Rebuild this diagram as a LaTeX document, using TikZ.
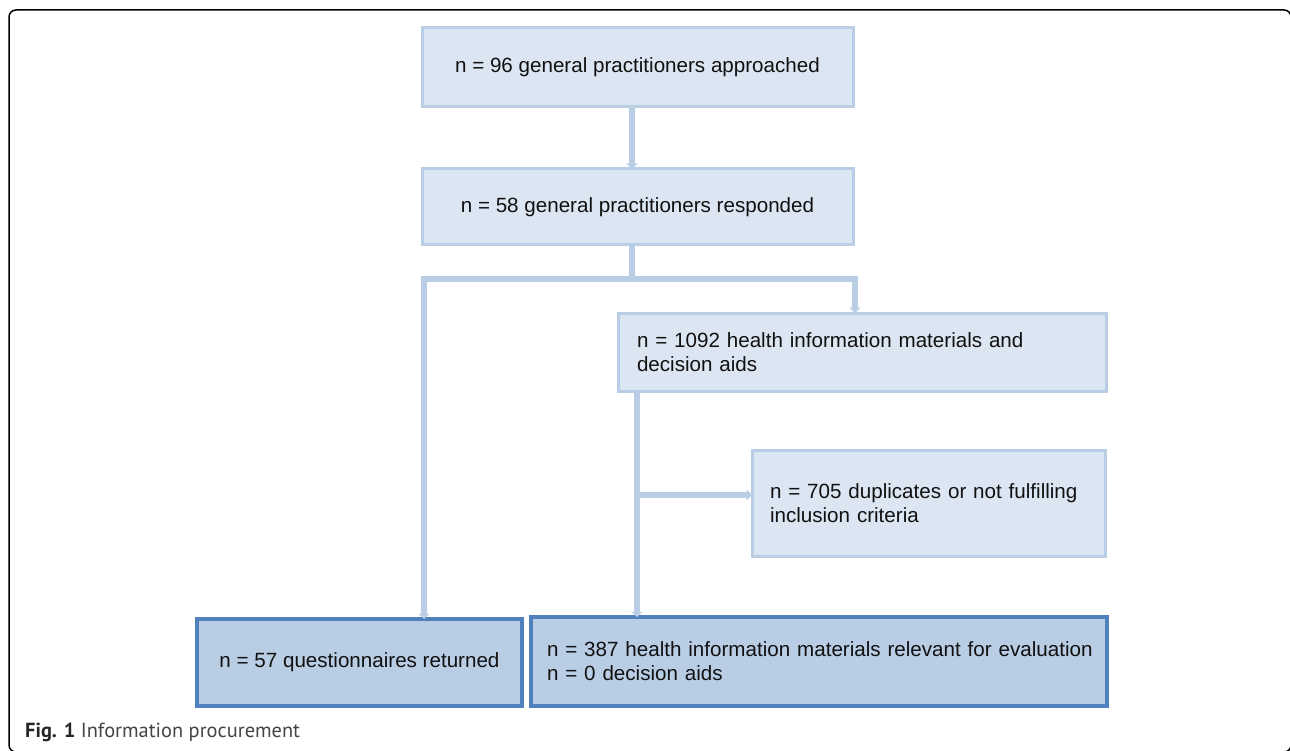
\documentclass[tikz,border=0pt]{standalone}
\usepackage{fontspec}
\setmainfont{Liberation Sans}
\newfontfamily\capfont{PT Sans}
\usetikzlibrary{arrows.meta}
\definecolor{lightfill}{HTML}{DCE6F2}
\definecolor{lightline}{HTML}{B9CDE5}
\definecolor{darkfill}{HTML}{B9CDE5}
\definecolor{darkline}{HTML}{4F81BD}
\definecolor{txt}{HTML}{111111}
\definecolor{capgray}{HTML}{444444}
\tikzset{
  box/.style={anchor=north west, outer sep=0pt, inner sep=0pt, text=txt,
    font=\fontsize{20.6}{24}\selectfont},
  lightbox/.style={box, draw=lightline, fill=lightfill, line width=3pt},
  darkbox/.style={box, draw=darkline, fill=darkfill, line width=3.5pt},
  conn/.style={draw=lightline, line width=5.5pt},
  arr/.style={conn, -{Triangle[width=11pt,length=5.5pt]}},
}
\begin{document}
\begin{tikzpicture}[x=1pt,y=-1pt]
\useasboundingbox (0,0) rectangle (1290,751);
\draw[line width=1.5pt, rounded corners=7pt] (9,10) rectangle (1291,752);

\node[lightbox, minimum width=431pt, minimum height=79pt, align=center] (b1) at (422,28)
  {n = 96 general practitioners approached};
\node[lightbox, minimum width=431pt, minimum height=76pt, align=center] (b2) at (422,169)
  {n = 58 general practitioners responded};
\node[lightbox, minimum width=488pt, minimum height=78pt, inner xsep=19pt, text width=450pt, align=left] (b3) at (618,313)
  {\mbox{n = 1092 health information materials and}\\\mbox{decision aids}};
\node[lightbox, minimum width=353pt, minimum height=106pt, inner xsep=18pt, text width=317pt, align=left] (b4) at (752,450)
  {\mbox{n = 705 duplicates or not fulfilling}\\\mbox{inclusion criteria}};
\node[darkbox, minimum width=325pt, minimum height=87pt, align=center] (b57) at (197,619)
  {n = 57 questionnaires returned};
\node[darkbox, minimum width=576pt, minimum height=89pt, inner xsep=16pt, text width=544pt, align=left] (b387) at (531,617)
  {\mbox{n = 387 health information materials relevant for evaluation}\\\mbox{n = 0 decision aids}};

\coordinate (xm) at (632,0);
\coordinate (jm) at (632,279);
\coordinate (jl) at (424,279);
\coordinate (jr) at (855,279);
\coordinate (xd) at (637,0);
\coordinate (br) at (637,495);

\draw[arr] (b1.south -| xm) -- (b2.north -| xm);
\draw[conn] (b2.south -| xm) -- (jm);
\draw[arr, line join=miter] (jm) -- (jl) -- (jl |- b57.north);
\draw[arr, line join=miter] (jm) -- (jr) -- (jr |- b3.north);
\draw[arr] (b3.south -| xd) -- (b387.north -| xd);
\draw[arr] (br) -- (br -| b4.west);

\node[anchor=base west, inner sep=0pt, font=\capfont\fontsize{20.4}{23}\selectfont, text=capgray] (cap) at (25,737)
  {\textbf{\color{black!85}Fig. 1} Information procurement};
\end{tikzpicture}
\end{document}
